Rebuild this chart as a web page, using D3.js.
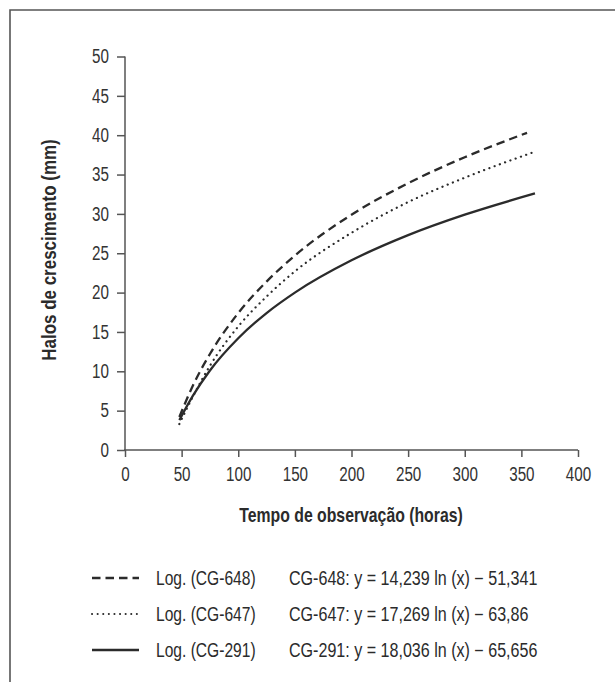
<!DOCTYPE html>
<html><head><meta charset="utf-8">
<script src="https://cdn.jsdelivr.net/npm/d3@7"></script>
<style>
html,body{margin:0;padding:0;background:#fff;}
svg{display:block;font-family:"Liberation Sans Narrow","Liberation Sans",sans-serif;}
</style></head>
<body>
<script>
const xTicks = [0, 50, 100, 150, 200, 250, 300, 350, 400];
const yTicks = [0, 5, 10, 15, 20, 25, 30, 35, 40, 45, 50];
const seriesNames = ["Log. (CG-648)", "Log. (CG-647)", "Log. (CG-291)"];
const equations = ["CG-648: y = 14,239 ln (x) \u2212 51,341", "CG-647: y = 17,269 ln (x) \u2212 63,86", "CG-291: y = 18,036 ln (x) \u2212 65,656"];
const dashedX = [48, 60, 75, 100, 125, 150, 200, 250, 300, 355];
const dashedY = [4.2, 8.2, 12.2, 17.4, 21.4, 24.7, 29.9, 33.9, 37.2, 40.3];
const dottedX = [48, 60, 75, 100, 125, 150, 200, 250, 300, 362];
const dottedY = [3.3, 6.8, 10.7, 15.7, 19.5, 22.7, 27.6, 31.5, 34.6, 37.9];
const solidX = [48, 60, 75, 100, 125, 150, 200, 250, 300, 362];
const solidY = [3.8, 6.9, 10.1, 14.2, 17.4, 20.0, 24.1, 27.3, 29.9, 32.6];

const W = 615, H = 682;
const FS = 19.5;
const svg = d3.select("body").append("svg").attr("width", W).attr("height", H);
svg.append("path").attr("d", `M10,${H+5} V10 H${W+5}`).attr("fill","none").attr("stroke","#555").attr("stroke-width",1.6);

const x = d3.scaleLinear().domain([0, 400]).range([125, 578]);
const y = d3.scaleLinear().domain([0, 50]).range([450, 56.5]);

const ink = "#2b2b2b", axc = "#555";
const gx = svg.append("g").attr("transform", "translate(0,450)")
  .call(d3.axisBottom(x).tickValues(xTicks).tickSize(7).tickSizeOuter(0).tickPadding(10));
const gy = svg.append("g").attr("transform", "translate(125,0)")
  .call(d3.axisLeft(y).tickValues(yTicks).tickSize(8).tickSizeOuter(0).tickPadding(8));
const TS = 0.78;
[gx, gy].forEach(g => {
  g.select(".domain").attr("stroke", axc).attr("stroke-width", 1.5);
  g.selectAll(".tick line").attr("stroke", axc).attr("stroke-width", 1.5);
  g.selectAll(".tick text").attr("fill", "#333").style("font-size", FS + "px")
   .style("font-family", '"Liberation Sans Narrow","Liberation Sans",sans-serif')
   .attr("transform", `scale(${TS},1)`)
   .attr("x", function(){ return (+this.getAttribute("x") || 0) / TS; });
});
gx.select(".domain").attr("d", "M124,0H578");
gy.select(".domain").attr("d", `M0,${y(50)}V451`);

function ntext(px, py, sx, str, opts = {}) {
  const t = svg.append("text")
    .attr("transform", `translate(${px},${py})${opts.rot ? " rotate(" + opts.rot + ")" : ""} scale(${sx},1)`)
    .attr("font-size", FS).attr("fill", ink).text(str);
  if (opts.anchor) t.attr("text-anchor", opts.anchor);
  if (opts.bold) t.attr("font-weight", "bold");
  if (opts.dy) t.attr("dy", opts.dy);
  return t;
}
ntext(351, 522, 0.81, "Tempo de observação (horas)", {anchor: "middle", bold: true});
ntext(56, 250, 0.87, "Halos de crescimento (mm)", {anchor: "middle", bold: true, rot: -90});

const styles = [
  {dash: "8.5,5", cap: "butt"},
  {dash: "0.1,5.5", cap: "round"},
  {dash: null, cap: "butt"}
];
const series = [
  d3.zip(dashedX, dashedY),
  d3.zip(dottedX, dottedY),
  d3.zip(solidX, solidY)
];
const line = d3.line().x(d => x(d[0])).y(d => y(d[1])).curve(d3.curveMonotoneX);
series.forEach((s, i) => {
  svg.append("path").datum(s).attr("d", line).attr("fill","none").attr("stroke", ink)
    .attr("stroke-width", i === 1 ? 2.2 : 2.3)
    .attr("stroke-dasharray", styles[i].dash).attr("stroke-linecap", styles[i].cap);
});

const legY = [578, 614, 650];
seriesNames.forEach((n, i) => {
  svg.append("line").attr("x1", 92).attr("x2", 139).attr("y1", legY[i]).attr("y2", legY[i])
    .attr("stroke", ink).attr("stroke-width", i === 1 ? 2 : 2.5)
    .attr("stroke-dasharray", styles[i].dash).attr("stroke-linecap", styles[i].cap);
  ntext(156, legY[i], 0.80, n, {dy: "0.36em"});
  ntext(289, legY[i], 0.825, equations[i], {dy: "0.36em"});
});
</script>
</body></html>
